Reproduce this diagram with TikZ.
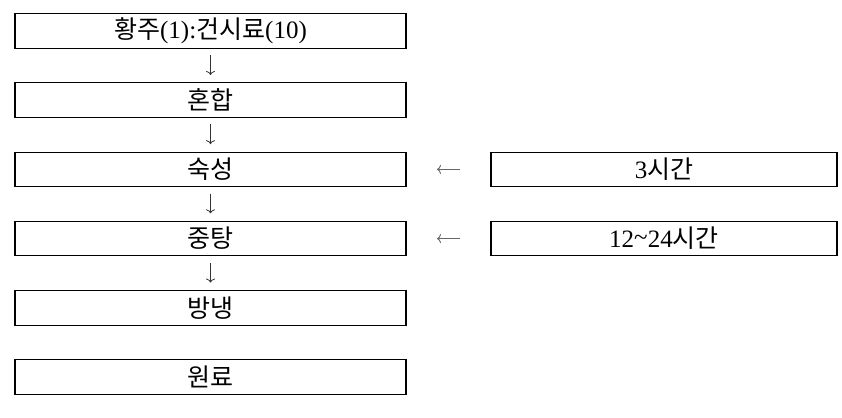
\documentclass[tikz,border=0pt]{standalone}
\usepackage{fontspec}
\setmainfont{Liberation Serif}
\newfontfamily\kr{Noto Sans CJK KR}
\usetikzlibrary{positioning,arrows.meta}
\tikzset{
	단계/.style={rectangle, draw=black, line width=1.1pt, outer sep=0pt,
		minimum width=391pt, minimum height=34.5pt, inner sep=0pt,
		font=\fontsize{25}{29}\selectfont, text centered},
	시간/.style={rectangle, draw=black, line width=1.1pt, outer sep=0pt,
		minimum width=346pt, minimum height=34.5pt, inner sep=0pt,
		font=\fontsize{25}{29}\selectfont, text centered},
	아래/.style={-{To[length=4pt,width=9pt]}, black!80, line width=0.8pt,
		shorten <=7pt, shorten >=8pt},
	왼쪽/.style={-{To[length=4pt,width=9pt]}, black!60, line width=0.9pt,
		shorten <=31pt, shorten >=31pt}
}

\begin{document}
\begin{tikzpicture}[x=1pt, y=-1pt, node distance=34.7pt]
			\useasboundingbox (0,0) rectangle (842,417);
			\node[단계] (s1) at (210.5,31) {{\kr 황주}(1):{\kr 건시료}(10)};
			\node[단계, below=of s1] (s2) {\kr 혼합};
			\node[단계, below=of s2] (s3) {\kr 숙성};
			\node[단계, below=of s3] (s4) {\kr 중탕};
			\node[단계, below=of s4] (s5) {\kr 방냉};
			\node[단계, below=of s5] (s6) {\kr 원료};
			
			\node[시간, right=85pt of s3] (t1) {3{\kr 시간}};
			\node[시간, right=85pt of s4] (t2) {12\raisebox{0.25ex}{\char"007E}24{\kr 시간}};
			
			\draw[아래] (s1) -- (s2);
			\draw[아래] (s2) -- (s3);
			\draw[아래] (s3) -- (s4);
			\draw[아래] (s4) -- (s5);
			
			\draw[왼쪽] (t1.west) -- (s3.east);
			\draw[왼쪽] (t2.west) -- (s4.east);
		\end{tikzpicture}
\end{document}
